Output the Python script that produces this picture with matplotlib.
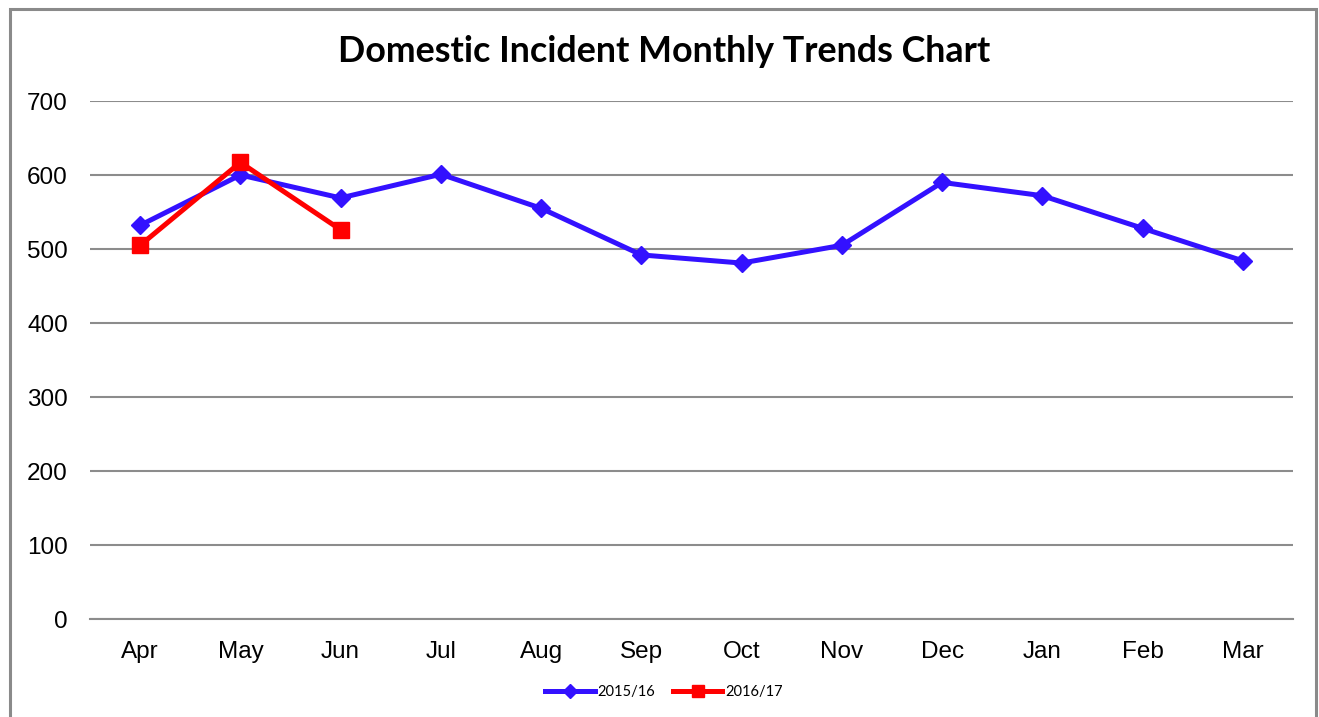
import matplotlib.pyplot as plt
from matplotlib.patches import Rectangle

months = ["Apr", "May", "Jun", "Jul", "Aug", "Sep", "Oct", "Nov", "Dec", "Jan", "Feb", "Mar"]
fy_2015 = [532, 600, 569, 601, 555, 492, 481, 505, 590, 572, 528, 484]
fy_2016 = [505, 617, 526]
yticks = [0, 100, 200, 300, 400, 500, 600, 700]

plt.rcParams['font.family'] = ['Liberation Sans', 'DejaVu Sans']

fig = plt.figure(figsize=(13.19, 7.17), dpi=100)
ax = fig.add_axes([90/1319, 1 - 619/717, (1293 - 90)/1319, (619 - 101)/717])

# outer chart border (bottom edge runs off the image)
fig.patches.append(Rectangle((10/1319, -0.05), (1316 - 10)/1319, 1.05 - 9/717,
                             transform=fig.transFigure, fill=False,
                             edgecolor='#8a8a8a', linewidth=2.2))

x = range(len(months))
ax.plot(x, fy_2015, color='#3311ff', linewidth=3.6, marker='D', markersize=9,
        label='2015/16', zorder=3)
ax.plot(range(len(fy_2016)), fy_2016, color='#ff0000', linewidth=3.6, marker='s',
        markersize=12, label='2016/17', zorder=4)

ax.set_xlim(-0.5, len(months) - 0.5)
ax.set_ylim(0, 700)
ax.set_yticks(yticks)
ax.set_xticks(list(x))
ax.set_xticklabels(months)
ax.tick_params(axis='both', length=0, labelsize=17.5)
ax.tick_params(axis='y', pad=16)
ax.tick_params(axis='x', pad=16)
ax.grid(axis='y', color='#8c8c8c', linewidth=1.5)
ax.set_axisbelow(True)
for s in ['top', 'right', 'left']:
    ax.spines[s].set_visible(False)
ax.spines['bottom'].set_color('#8c8c8c')
ax.spines['bottom'].set_linewidth(1.5)

fig.text(664/1319, 1 - 51/717, 'Domestic Incident Monthly Trends Chart', ha='center',
         va='center', fontsize=25.8, fontweight='bold', family=['Lato', 'DejaVu Sans'])

leg = fig.legend(loc='center', bbox_to_anchor=(664/1319, 1 - 692/717), ncol=2, frameon=False,
                 handlelength=3.4, handletextpad=0.2, columnspacing=1.2, markerscale=0.75,
                 prop={'family': ['Lato', 'DejaVu Sans'], 'size': 10.5})

fig.savefig('out.png', dpi=100)
